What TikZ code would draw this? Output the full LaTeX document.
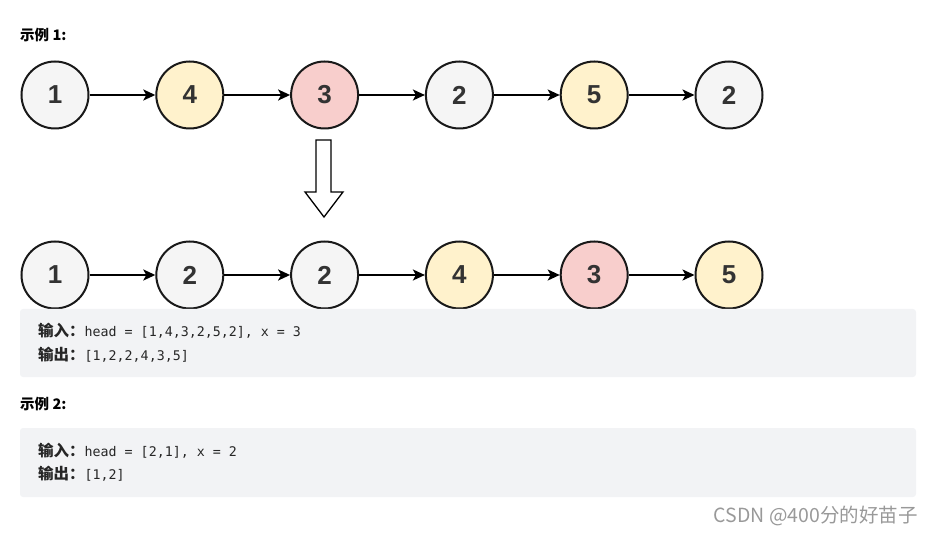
\documentclass[tikz,border=0pt]{standalone}
\usepackage{fontspec}
\setmainfont{Liberation Sans}
\setmonofont{DejaVu Sans Mono}
\newfontfamily\cjk{Noto Sans CJK SC}
\definecolor{ndGray}{HTML}{F5F5F5}
\definecolor{ndYellow}{HTML}{FFF2CC}
\definecolor{ndRed}{HTML}{F8CECC}
\definecolor{codeBg}{HTML}{F2F3F5}
\definecolor{codeTxt}{HTML}{262626}
\usetikzlibrary{arrows.meta, positioning}

\begin{document}
\begin{tikzpicture}[x=1pt, y=-1pt,
    listnode/.style={circle, draw=black!90, line width=2pt, minimum size=67pt,
      inner sep=0pt, text=black!80, font=\fontsize{26}{26}\selectfont\bfseries},
    link/.style={line width=2pt, -{Stealth[length=12pt, width=11pt, inset=3pt]}},
    codebox/.style={fill=codeBg, rounded corners=3pt},
    codeline/.style={anchor=west, inner sep=0pt, text=codeTxt,
      font=\fontsize{13.3}{14}\ttfamily},
    title/.style={anchor=west, inner sep=0pt, font=\fontsize{14.5}{15}\cjk\bfseries}]
  \useasboundingbox (0,0) rectangle (934,534);
  % Example 1 heading
  \node[title] (t1) at (20,35) {示例 1:};
  % list before
  \foreach \i/\v/\c in {1/1/ndGray, 2/4/ndYellow, 3/3/ndRed, 4/2/ndGray, 5/5/ndYellow, 6/2/ndGray}
    \node[listnode, fill=\c] (a\i) at ({55+134.8*(\i-1)},95) {\v};
  \foreach \i [count=\j from 2] in {1,...,5}
    \draw[link] (a\i) -- (a\j);
  % hollow arrow
  \draw[line width=1.3pt, line join=miter]
    (316,140) -- (331,140) -- (331,192) -- (343,192) -- (324,217)
    -- (305,192) -- (316,192) -- cycle;
  % list after
  \foreach \i/\v/\c in {1/1/ndGray, 2/2/ndGray, 3/2/ndGray, 4/4/ndYellow, 5/3/ndRed, 6/5/ndYellow}
    \node[listnode, fill=\c] (b\i) at ({55+134.8*(\i-1)},275) {\v};
  \foreach \i [count=\j from 2] in {1,...,5}
    \draw[link] (b\i) -- (b\j);
  % code box 1
  \fill[codebox] (20,309) rectangle (916,377);
  \node[codeline] (in1) at (38,331) {{\cjk\fontsize{15.5}{16}\selectfont\bfseries 输入：}head = [1,4,3,2,5,2], x = 3};
  \node[codeline] (out1) at (38,355) {{\cjk\fontsize{15.5}{16}\selectfont\bfseries 输出：}[1,2,2,4,3,5]};
  % Example 2
  \node[title] (t2) at (20,404) {示例 2:};
  \fill[codebox] (20,428) rectangle (916,497);
  \node[codeline] (in2) at (38,451) {{\cjk\fontsize{15.5}{16}\selectfont\bfseries 输入：}head = [2,1], x = 2};
  \node[codeline] (out2) at (38,474) {{\cjk\fontsize{15.5}{16}\selectfont\bfseries 输出：}[1,2]};
  % watermark
  \node[anchor=east, inner sep=0pt, text=black!40, font=\fontsize{19.5}{20}\cjk] (wm)
    at (918,516) {CSDN @400分的好苗子};
\end{tikzpicture}
\end{document}
